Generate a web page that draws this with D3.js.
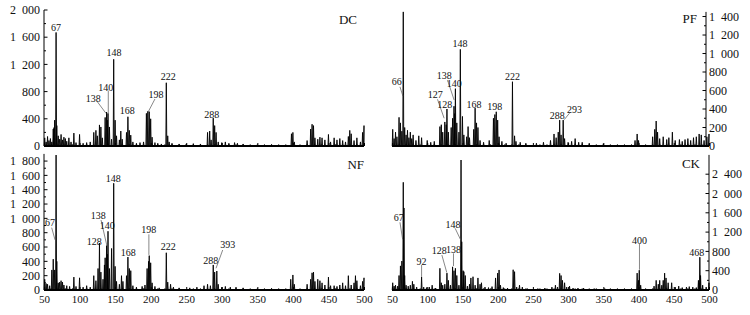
<!DOCTYPE html>
<html><head><meta charset="utf-8">
<script src="https://cdn.jsdelivr.net/npm/d3@7"></script>
<style>
body{margin:0;background:#fff}
svg{display:block}
text{font-family:"Liberation Serif","Times New Roman",serif;fill:#111}
</style>
</head><body>
<svg id="c" width="750" height="315"></svg>
<script>
// ---------- DATA ----------
const xTicks = [50,100,150,200,250,300,350,400,450,500];
const dcTicks = [0,400,800,1200,1600,2000];
const pfTicks = [0,200,400,600,800,1000,1200,1400];
const nfTicks = [0,200,400,600,800,1000,1200,1400,1600,1800];
const ckTicks = [0,400,800,1200,1600,2000,2400];

// [fragment length (bp), fluorescence]
const dcPeaks = [[51,120],[53,60],[55,140],[57,80],[59,110],[61,60],[63,250],[64,270],[65,380],[67,1670],[68,300],[70,150],[72,100],[74,170],[76,90],[78,130],[80,110],[82,70],[85,120],[88,60],[92,190],[95,50],[100,170],[105,40],[110,50],[115,60],[120,200],[123,230],[125,150],[128,310],[130,280],[132,120],[136,420],[138,500],[139,380],[140,480],[142,280],[145,100],[148,1275],[150,380],[152,150],[156,90],[158,220],[160,100],[166,200],[168,430],[170,230],[172,160],[175,60],[180,40],[185,50],[190,60],[194,480],[196,510],[198,505],[200,400],[202,130],[206,50],[210,40],[215,30],[222,930],[224,150],[226,60],[230,40],[240,30],[250,30],[260,35],[270,30],[280,200],[283,220],[285,90],[288,410],[290,300],[292,200],[295,60],[300,50],[305,60],[310,40],[318,50],[322,40],[330,30],[350,20],[370,20],[398,180],[400,200],[402,60],[420,80],[425,250],[427,320],[429,300],[431,120],[435,100],[438,130],[441,120],[445,90],[450,170],[453,60],[458,120],[462,90],[466,110],[470,80],[474,60],[478,140],[480,230],[482,180],[486,80],[490,120],[495,60],[498,200],[500,300]];

const pfPeaks = [[51,180],[53,80],[55,150],[57,100],[60,310],[62,250],[64,160],[66,1450],[68,200],[70,120],[72,170],[74,90],[76,150],[78,80],[80,120],[84,60],[88,110],[92,90],[100,60],[105,40],[110,50],[118,210],[120,230],[122,150],[125,260],[127,230],[128,400],[130,150],[134,200],[136,300],[138,430],[139,350],[140,620],[142,250],[145,150],[147,1045],[150,320],[152,120],[156,100],[158,210],[160,90],[166,180],[168,410],[170,250],[172,200],[175,60],[180,40],[188,60],[194,300],[196,340],[198,370],[200,280],[202,100],[206,50],[212,30],[221,695],[224,110],[226,50],[232,40],[240,30],[255,30],[265,40],[275,60],[280,130],[283,90],[286,150],[288,280],[290,120],[293,280],[295,80],[300,40],[305,50],[310,80],[315,40],[320,40],[330,30],[350,25],[395,60],[398,130],[400,60],[420,100],[423,180],[425,270],[427,150],[430,80],[435,100],[440,70],[443,90],[448,150],[452,60],[458,70],[462,50],[466,70],[470,80],[474,60],[478,90],[482,100],[486,130],[489,120],[493,60],[497,100],[500,130]];

const nfPeaks = [[51,150],[53,90],[55,80],[58,60],[61,280],[63,430],[65,280],[67,1884],[68,400],[70,100],[72,110],[74,130],[76,110],[78,70],[82,60],[86,50],[92,180],[95,50],[100,170],[105,40],[110,60],[115,40],[120,200],[123,130],[126,300],[128,655],[130,250],[133,150],[135,350],[136,450],[138,620],[139,500],[140,820],[142,300],[145,580],[148,1490],[150,330],[152,120],[156,80],[159,200],[161,120],[166,200],[168,460],[170,300],[172,270],[175,60],[180,40],[188,50],[192,70],[195,300],[197,400],[198,480],[200,380],[202,100],[206,50],[212,30],[222,520],[224,110],[228,80],[232,40],[240,30],[255,30],[265,40],[275,60],[280,80],[284,60],[288,350],[290,250],[293,265],[295,80],[300,40],[305,50],[312,40],[320,40],[330,30],[350,20],[370,20],[397,150],[400,210],[402,80],[420,80],[425,150],[427,240],[429,250],[431,120],[435,150],[438,130],[441,100],[445,70],[450,180],[453,60],[458,60],[462,50],[466,70],[470,100],[474,60],[478,200],[482,70],[486,100],[488,200],[490,130],[495,60],[498,120],[500,170]];

const ckPeaks = [[51,150],[53,80],[55,100],[58,80],[60,300],[62,500],[64,600],[66,2232],[67,1700],[68,300],[70,100],[73,80],[76,100],[79,180],[81,120],[85,60],[92,275],[95,60],[99,50],[103,60],[107,100],[112,40],[118,450],[120,150],[122,100],[125,120],[128,350],[130,200],[133,100],[136,480],[138,400],[140,450],[142,300],[145,100],[148,2694],[149,1000],[151,400],[152,380],[154,300],[157,80],[160,120],[162,250],[165,275],[168,100],[172,250],[175,120],[177,150],[182,60],[187,50],[192,70],[197,250],[200,350],[202,415],[204,100],[208,50],[214,40],[222,420],[224,380],[227,60],[231,100],[235,60],[242,30],[257,30],[267,40],[277,60],[282,100],[285,60],[288,345],[290,300],[292,200],[295,150],[298,60],[302,80],[307,40],[314,40],[322,40],[337,30],[352,30],[372,20],[398,350],[400,200],[401,410],[403,100],[422,80],[425,200],[428,120],[430,200],[433,100],[435,200],[437,350],[439,250],[442,150],[447,150],[452,60],[457,80],[462,50],[468,60],[472,70],[477,60],[482,50],[485,200],[486,150],[487,680],[488,300],[491,100],[496,60],[500,150]];

// peak annotations: text, label point [bp, value], optional leader [bp1,v1,bp2,v2]
const dcNotes = [
  {t:"67",  at:[66.9,1743]},
  {t:"148", at:[148.4,1378]},
  {t:"140", at:[136.8,863], lead:[140.4,815,140.4,480]},
  {t:"138", at:[119.4,696], lead:[125,651,137.2,480]},
  {t:"168", at:[167.2,529]},
  {t:"198", at:[207.5,760], lead:[206,691,196.7,505]},
  {t:"222", at:[224.8,1019]},
  {t:"288", at:[285.8,466]}
];
const pfNotes = [
  {t:"66",  at:[56.7,695], lead:[61.3,640,65.5,540]},
  {t:"127", at:[111.3,555], lead:[114.6,505,124,300]},
  {t:"128", at:[125,451]},
  {t:"138", at:[124,764], lead:[128.8,713,138.2,497]},
  {t:"140", at:[138.2,678]},
  {t:"148", at:[146.7,1110]},
  {t:"168", at:[166.5,454]},
  {t:"198", at:[195.7,432]},
  {t:"222", at:[221.2,750]},
  {t:"288", at:[284.5,328]},
  {t:"293", at:[309,400], lead:[302,355,294.5,285]}
];
const nfNotes = [
  {t:"67",  at:[58.4,945], lead:[60.8,870,65.5,700]},
  {t:"148", at:[147.5,1559]},
  {t:"138", at:[126.4,1047], lead:[130.2,977,138.2,628]},
  {t:"140", at:[139,907]},
  {t:"128", at:[120.7,684]},
  {t:"168", at:[168.6,521]},
  {t:"198", at:[197.2,847], lead:[197.5,777,197.5,490]},
  {t:"222", at:[224.8,604]},
  {t:"288", at:[284.4,415]},
  {t:"393", at:[308.3,638], lead:[301.3,558,291.9,303]}
];
const ckNotes = [
  {t:"67",  at:[59.5,1498], lead:[61.3,1403,65.1,1051]},
  {t:"92",  at:[92,601], lead:[92,518,92,290]},
  {t:"128", at:[117,823], lead:[120.8,725,127.8,360]},
  {t:"138", at:[137.3,835], lead:[137.3,760,137.3,497]},
  {t:"148", at:[136.7,1362], lead:[139.6,1279,147.6,1036]},
  {t:"400", at:[401.3,1036], lead:[401.3,953,401.3,420]},
  {t:"468", at:[482.6,773]}
];

// ---------- LAYOUT ----------
const panels = [
  {name:"DC", peaks:dcPeaks, ticks:dcTicks, notes:dcNotes, ymax:2000, x0:44,  x1:364, yb:146, yt:10,    axisX:44,  side:"left",  lab:[357,23.5], xlabels:false},
  {name:"PF", peaks:pfPeaks, ticks:pfTicks, notes:pfNotes, ymax:1450, x0:392, x1:709, yb:146, yt:11.9,  axisX:706, side:"right", lab:[697,22.5], xlabels:false},
  {name:"NF", peaks:nfPeaks, ticks:nfTicks, notes:nfNotes, ymax:1900, x0:44,  x1:364, yb:290, yt:153.9, axisX:44,  side:"left",  lab:[364,169],  xlabels:true},
  {name:"CK", peaks:ckPeaks, ticks:ckTicks, notes:ckNotes, ymax:2800, x0:392, x1:709, yb:290, yt:154.9, axisX:709, side:"right", lab:[700,167.5],xlabels:true}
];

const svg = d3.select("#c");
const fmt = v => v >= 1000 ? Math.floor(v/1000) + "\u2002" + String(v%1000).padStart(3,"0") : String(v);

panels.forEach(p => {
  const x = d3.scaleLinear().domain([50,500]).range([p.x0,p.x1]);
  const y = d3.scaleLinear().domain([0,p.ymax]).range([p.yb,p.yt]);
  const g = svg.append("g");

  // trace
  const w = 0.7;
  const pts = [[50,0]];
  p.peaks.slice().sort((a,b)=>a[0]-b[0]).forEach(([b,h]) => {
    pts.push([Math.max(50,b-w),0],[b,h],[Math.min(500,b+w),0]);
  });
  pts.push([500,0]);
  g.append("path")
    .attr("d", d3.line().x(d=>x(d[0])).y(d=>y(d[1]))(pts))
    .attr("fill","#000").attr("fill-opacity",0.35)
    .attr("stroke","#000").attr("stroke-width",0.9).attr("stroke-linejoin","miter");

  // x axis (baseline)
  const xa = g.append("g").attr("transform",`translate(0,${p.yb})`)
    .call(d3.axisBottom(x).tickValues(xTicks).tickSize(-3).tickFormat(p.xlabels ? d3.format("d") : ""));
  xa.select(".domain").attr("stroke","#000").attr("stroke-width",2).attr("d",`M${p.x0},0H${p.x1}`);
  xa.selectAll(".tick line").attr("stroke","#000");
  xa.selectAll("text").attr("font-size",11).attr("dy","0.95em").attr("y",3).attr("fill","#111")
    .style("font-family",'"Liberation Serif",serif');

  // minor x ticks
  g.append("g").selectAll("line").data(d3.range(60,500,10).filter(v=>v%50)).join("line")
    .attr("x1",d=>x(d)).attr("x2",d=>x(d)).attr("y1",p.yb).attr("y2",p.yb-1.8)
    .attr("stroke","#000").attr("stroke-width",0.8);

  // y axis
  const ya = g.append("g").attr("transform",`translate(${p.axisX},0)`);
  ya.append("line").attr("y1",p.yb).attr("y2",p.yt).attr("stroke","#000").attr("stroke-width",1);
  const dir = p.side==="left" ? 1 : -1; // inward ticks
  const step = p.ticks[1]-p.ticks[0];
  const minor = p.ticks.slice(0,-1).map(v=>v+step/2).filter(v=>v<=p.ymax);
  ya.selectAll(".maj").data(p.ticks).join("line").attr("class","maj")
    .attr("x1",0).attr("x2",dir*3.5).attr("y1",d=>y(d)).attr("y2",d=>y(d)).attr("stroke","#000");
  ya.selectAll(".min").data(minor).join("line").attr("class","min")
    .attr("x1",0).attr("x2",dir*2).attr("y1",d=>y(d)).attr("y2",d=>y(d)).attr("stroke","#000");
  ya.selectAll("text").data(p.ticks).join("text")
    .attr("x", p.side==="left" ? -4 : 3)
    .attr("y", d=>y(d)).attr("dy","0.35em")
    .attr("text-anchor", p.side==="left" ? "end" : "start")
    .attr("font-size",12).text(fmt);

  // panel label
  g.append("text").attr("x",p.lab[0]).attr("y",p.lab[1]).attr("text-anchor","end")
    .attr("font-size",13).text(p.name);

  // annotations
  p.notes.forEach(n => {
    if (n.lead) {
      g.append("line").attr("x1",x(n.lead[0])).attr("y1",y(n.lead[1]))
        .attr("x2",x(n.lead[2])).attr("y2",y(n.lead[3]))
        .attr("stroke","#555").attr("stroke-width",0.7);
    }
    g.append("text").attr("x",x(n.at[0])).attr("y",y(n.at[1])).attr("dy","0.35em")
      .attr("text-anchor","middle").attr("font-size",10).text(n.t);
  });
});
</script>
</body></html>
